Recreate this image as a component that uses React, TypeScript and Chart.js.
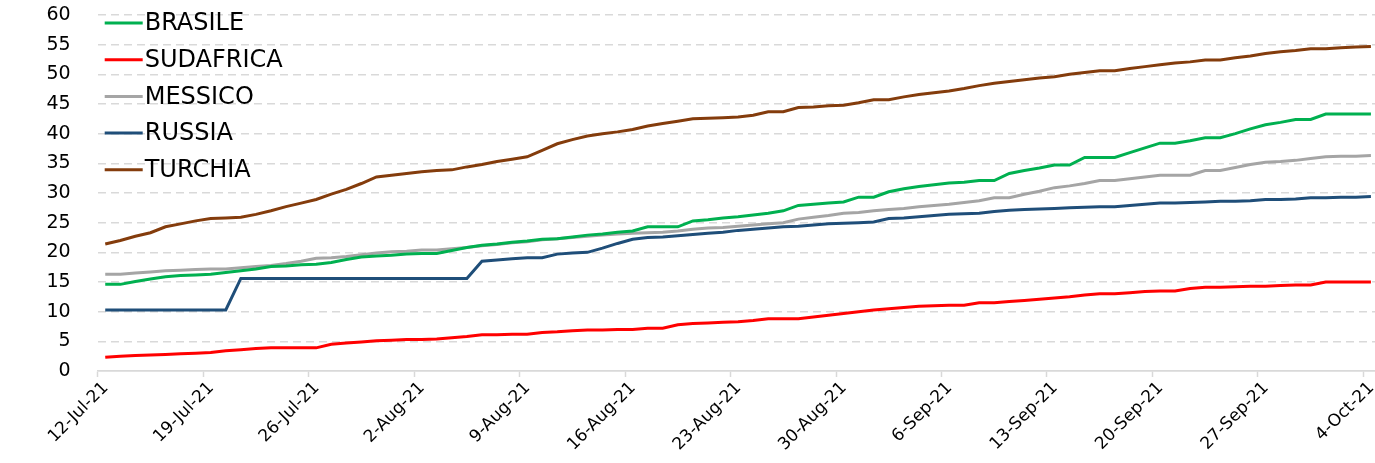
import React, { useEffect, useRef } from "react";
import { Chart, registerables } from "chart.js";

Chart.register(...registerables);

// Daily observations from 12-Jul-21 to 4-Oct-21 (85 days)
const DAY_COUNT = 85;

const TICK_LABELS = [
  "12-Jul-21", "19-Jul-21", "26-Jul-21", "2-Aug-21", "9-Aug-21", "16-Aug-21", "23-Aug-21",
  "30-Aug-21", "6-Sep-21", "13-Sep-21", "20-Sep-21", "27-Sep-21", "4-Oct-21",
];

const Y_TICKS = [0, 5, 10, 15, 20, 25, 30, 35, 40, 45, 50, 55, 60];

const SERIES_NAMES = ["BRASILE", "SUDAFRICA", "MESSICO", "RUSSIA", "TURCHIA"];
const SERIES_COLORS = ["#00B050", "#FF0000", "#A5A5A5", "#1F4E79", "#843C0C"];

const BRASILE = [
  14.6, 14.6, 15.1, 15.5, 15.9, 16.1, 16.2, 16.3, 16.6, 16.9, 17.2, 17.6, 17.7, 17.9, 18.0, 18.3, 18.8,
  19.2, 19.4, 19.5, 19.7, 19.8, 19.8, 20.3, 20.8, 21.2, 21.4, 21.7, 21.9, 22.2, 22.3, 22.6, 22.9, 23.1,
  23.4, 23.6, 24.3, 24.3, 24.3, 25.3, 25.5, 25.8, 26.0, 26.3, 26.6, 27.0, 27.9, 28.1, 28.3, 28.5, 29.3,
  29.3, 30.2, 30.7, 31.1, 31.4, 31.7, 31.8, 32.1, 32.1, 33.3, 33.8, 34.2, 34.7, 34.7, 36.0, 36.0, 36.0,
  36.8, 37.6, 38.4, 38.4, 38.8, 39.3, 39.3, 40.0, 40.8, 41.5, 41.9, 42.4, 42.4, 43.3, 43.3, 43.3, 43.3,
];

const SUDAFRICA = [
  2.3, 2.5, 2.6, 2.7, 2.8, 2.9, 3.0, 3.1, 3.4, 3.6, 3.8, 3.9, 3.9, 3.9, 3.9, 4.5, 4.7, 4.9, 5.1, 5.2,
  5.3, 5.3, 5.4, 5.6, 5.8, 6.1, 6.1, 6.2, 6.2, 6.5, 6.6, 6.8, 6.9, 6.9, 7.0, 7.0, 7.2, 7.2, 7.8, 8.0,
  8.1, 8.2, 8.3, 8.5, 8.8, 8.8, 8.8, 9.1, 9.4, 9.7, 10.0, 10.3, 10.5, 10.7, 10.9, 11.0, 11.1, 11.1, 11.5,
  11.5, 11.7, 11.9, 12.1, 12.3, 12.5, 12.8, 13.0, 13.0, 13.2, 13.4, 13.5, 13.5, 13.9, 14.1, 14.1, 14.2,
  14.3, 14.3, 14.4, 14.5, 14.5, 15.0, 15.0, 15.0, 15.0,
];

const MESSICO = [
  16.3, 16.3, 16.5, 16.7, 16.9, 17.0, 17.1, 17.2, 17.2, 17.4, 17.6, 17.8, 18.1, 18.5, 19.0, 19.1, 19.3,
  19.6, 19.9, 20.1, 20.2, 20.4, 20.4, 20.6, 20.8, 21.1, 21.3, 21.6, 21.8, 22.1, 22.3, 22.5, 22.7, 22.9,
  23.1, 23.2, 23.3, 23.4, 23.6, 23.9, 24.1, 24.2, 24.4, 24.6, 24.8, 25.0, 25.6, 25.9, 26.2, 26.6, 26.7,
  27.0, 27.2, 27.4, 27.7, 27.9, 28.1, 28.4, 28.7, 29.2, 29.2, 29.8, 30.3, 30.9, 31.2, 31.6, 32.1, 32.1,
  32.4, 32.7, 33.0, 33.0, 33.0, 33.8, 33.8, 34.3, 34.8, 35.2, 35.3, 35.5, 35.8, 36.1, 36.2, 36.2, 36.3,
];

const RUSSIA = [
  10.3, 10.3, 10.3, 10.3, 10.3, 10.3, 10.3, 10.3, 10.3, 15.6, 15.6, 15.6, 15.6, 15.6, 15.6, 15.6, 15.6,
  15.6, 15.6, 15.6, 15.6, 15.6, 15.6, 15.6, 15.6, 18.5, 18.7, 18.9, 19.1, 19.1, 19.7, 19.9, 20.0, 20.7,
  21.5, 22.2, 22.5, 22.6, 22.8, 23.0, 23.2, 23.4, 23.7, 23.9, 24.1, 24.3, 24.4, 24.6, 24.8, 24.9, 25.0,
  25.1, 25.7, 25.8, 26.0, 26.2, 26.4, 26.5, 26.6, 26.9, 27.1, 27.2, 27.3, 27.4, 27.5, 27.6, 27.7, 27.7,
  27.9, 28.1, 28.3, 28.3, 28.4, 28.5, 28.6, 28.6, 28.7, 28.9, 28.9, 29.0, 29.2, 29.2, 29.3, 29.3, 29.4,
];

const TURCHIA = [
  21.4, 22.0, 22.7, 23.3, 24.3, 24.8, 25.3, 25.7, 25.8, 25.9, 26.4, 27.0, 27.7, 28.3, 28.9, 29.8, 30.6,
  31.6, 32.7, 33.0, 33.3, 33.6, 33.8, 33.9, 34.4, 34.8, 35.3, 35.7, 36.1, 37.2, 38.3, 39.0, 39.6, 40.0,
  40.3, 40.7, 41.3, 41.7, 42.1, 42.5, 42.6, 42.7, 42.8, 43.1, 43.7, 43.7, 44.4, 44.5, 44.7, 44.8, 45.2,
  45.7, 45.7, 46.2, 46.6, 46.9, 47.2, 47.6, 48.1, 48.5, 48.8, 49.1, 49.4, 49.6, 50.0, 50.3, 50.6, 50.6,
  51.0, 51.3, 51.6, 51.9, 52.1, 52.4, 52.4, 52.8, 53.1, 53.5, 53.8, 54.0, 54.3, 54.3, 54.5, 54.6, 54.7,
];

const SERIES = [BRASILE, SUDAFRICA, MESSICO, RUSSIA, TURCHIA];

const W = 1375;
const H = 463;

const legendPlugin = {
  id: "insideLegend",
  afterDatasetsDraw(chart: any) {
    const { ctx } = chart;
    const x0 = chart.chartArea.left + 7;
    const y0 = 23;
    const rowH = 36.7;
    ctx.save();
    ctx.font = "24px 'DejaVu Sans'";
    ctx.textBaseline = "middle";
    ctx.textAlign = "left";
    chart.data.datasets.forEach((ds: any, i: number) => {
      const y = y0 + i * rowH;
      ctx.strokeStyle = ds.borderColor;
      ctx.lineWidth = 3;
      ctx.beginPath();
      ctx.moveTo(x0, y);
      ctx.lineTo(x0 + 38, y);
      ctx.stroke();
      ctx.fillStyle = "#000";
      ctx.fillText(ds.label, x0 + 40, y + 1);
    });
    ctx.restore();
  },
};

export default function App() {
  const ref = useRef<HTMLCanvasElement | null>(null);

  useEffect(() => {
    if (!ref.current) return;
    const datasets = SERIES_NAMES.map((name, s) => ({
      label: name,
      data: SERIES[s].map((v, i) => ({ x: i + 0.5, y: v })),
      borderColor: SERIES_COLORS[s],
      backgroundColor: SERIES_COLORS[s],
      borderWidth: 3,
      pointRadius: 0,
      tension: 0,
      fill: false,
    }));

    const chart = new Chart(ref.current, {
      type: "line",
      data: { datasets },
      options: {
        animation: false,
        responsive: false,
        maintainAspectRatio: false,
        layout: { padding: { top: 15, left: 0, right: 0, bottom: 0 } },
        plugins: { legend: { display: false }, tooltip: { enabled: false } },
        scales: {
          x: {
            type: "linear",
            min: 0,
            max: DAY_COUNT - 0.23,
            afterBuildTicks: (scale: any) => {
              scale.ticks = TICK_LABELS.map((_, i) => ({ value: i * 7 }));
            },
            afterFit: (scale: any) => {
              scale.height = 92;
              scale.paddingLeft = 0;
              scale.paddingRight = 0;
            },
            grid: {
              display: true,
              drawOnChartArea: false,
              drawTicks: true,
              tickLength: 6,
              tickColor: "#D9D9D9",
              tickWidth: 1.5,
              color: "#D9D9D9",
            },
            border: { display: true, color: "#D9D9D9", width: 1.5 },
            ticks: {
              autoSkip: false,
              minRotation: 45,
              maxRotation: 45,
              padding: 1,
              labelOffset: 8,
              color: "#000",
              font: { family: "'DejaVu Sans'", size: 17 },
              callback: (_v: any, i: number) => TICK_LABELS[i],
            },
          },
          y: {
            min: 0,
            max: 60,
            afterBuildTicks: (scale: any) => {
              scale.ticks = Y_TICKS.map((v) => ({ value: v }));
            },
            afterFit: (scale: any) => {
              scale.width = 97.7;
              scale.paddingTop = 0;
              scale.paddingBottom = 0;
            },
            grid: {
              display: true,
              drawTicks: false,
              color: "#D9D9D9",
              lineWidth: 1.5,
            },
            border: {
              display: false,
              dash: (ctx: any) => (ctx.tick && ctx.tick.value === 0 ? [] : [8, 5]),
            },
            ticks: {
              padding: 27,
              color: "#000",
              font: { family: "'DejaVu Sans'", size: 19 },
            },
          },
        },
      },
      plugins: [legendPlugin],
    });
    return () => chart.destroy();
  }, []);

  return (
    <div style={{ position: "absolute", left: 0, top: 0, width: W, height: H, background: "#fff" }}>
      <canvas ref={ref} width={W} height={H} style={{ width: W, height: H, display: "block" }} />
    </div>
  );
}
